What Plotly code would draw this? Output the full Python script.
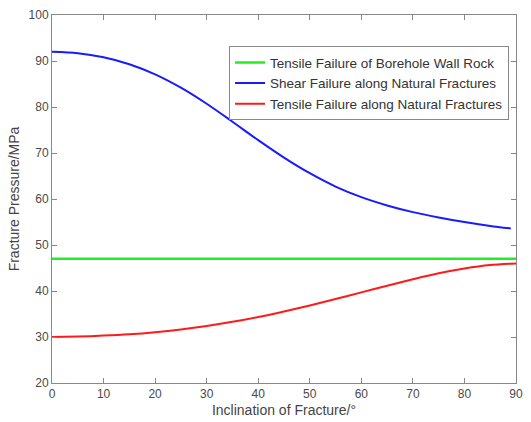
import plotly.graph_objects as go

angle = [0, 5, 10, 15, 20, 25, 30, 35, 40, 45, 50, 55, 60, 65, 70, 75, 80, 85, 89]
shear = [92, 91.7, 90.8, 89.3, 87.1, 84.2, 80.7, 76.8, 72.8, 69.0, 65.6, 62.7, 60.4, 58.6, 57.15, 56.0, 55.0, 54.15, 53.6]

angle_red = [0, 5, 10, 15, 20, 25, 30, 35, 40, 45, 50, 55, 60, 65, 70, 75, 80, 85, 90]
tensile_nf = [30, 30.1, 30.3, 30.6, 31.05, 31.65, 32.4, 33.3, 34.35, 35.55, 36.85, 38.25, 39.7, 41.15, 42.55, 43.85, 44.9, 45.65, 46.0]

angle_wall = [0, 90]
tensile_wall = [47, 47]

names = ["Tensile Failure of Borehole Wall Rock",
         "Shear Failure along Natural Fractures",
         "Tensile Failure along Natural Fractures"]

fig = go.Figure()
fig.add_trace(go.Scatter(x=angle_wall, y=tensile_wall, mode="lines", name=names[0],
                         line=dict(color="#22ee22", width=2.5)))
fig.add_trace(go.Scatter(x=angle, y=shear, mode="lines", name=names[1],
                         line=dict(color="#1a1aff", width=2, shape="spline", smoothing=0.8)))
fig.add_trace(go.Scatter(x=angle_red, y=tensile_nf, mode="lines", name=names[2],
                         line=dict(color="#ff1a1a", width=2, shape="spline", smoothing=0.8)))

axis_common = dict(showline=True, linecolor="#888888", linewidth=1, mirror="ticks",
                   ticks="inside", ticklen=5, tickcolor="#888888", showgrid=False,
                   zeroline=False, automargin=False,
                   tickfont=dict(size=12, color="#4a4a4a"))

fig.update_layout(
    width=531, height=422,
    paper_bgcolor="white", plot_bgcolor="white",
    margin=dict(l=52, r=15, t=15, b=39, autoexpand=False),
    font=dict(family="Liberation Sans, Arial, sans-serif", color="#444444"),
    xaxis=dict(range=[0, 90], tickmode="array", tickvals=list(range(0, 91, 10)),
               title=dict(text="Inclination of Fracture/°", font=dict(size=14), standoff=4),
               **axis_common),
    yaxis=dict(range=[20, 100], tickmode="array", tickvals=list(range(20, 101, 10)),
               title=dict(text="Fracture Pressure/MPa", font=dict(size=14), standoff=5),
               **axis_common),
    legend=dict(x=0.985, y=0.915, xanchor="right", yanchor="top",
                bgcolor="white", bordercolor="#888888", borderwidth=1,
                font=dict(size=13.5, color="#333333"), tracegroupgap=0,
                itemwidth=30),
    showlegend=True,
)

fig.write_html("out.html", config={"displayModeBar": False},
               post_script="document.body.style.margin='0px';document.body.style.overflow='hidden';")
